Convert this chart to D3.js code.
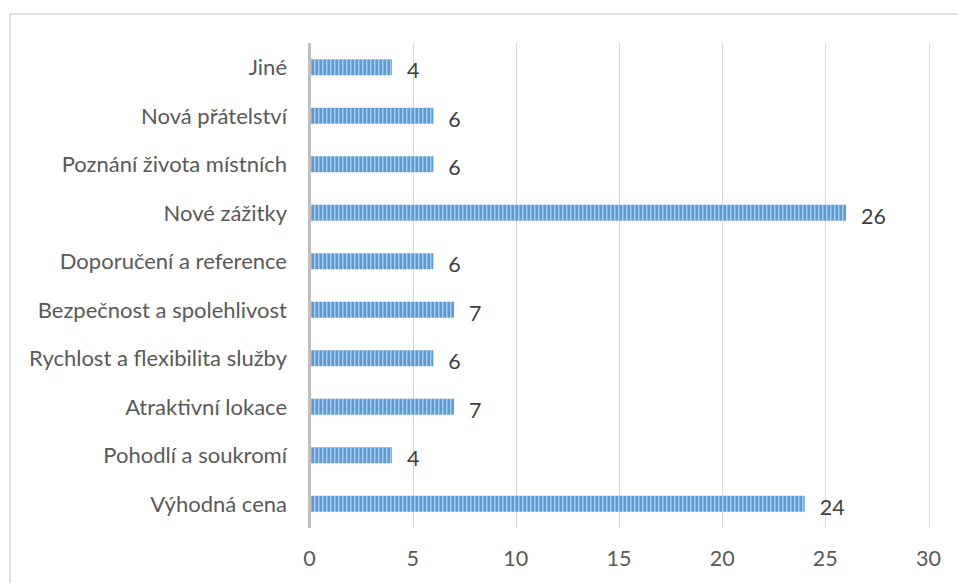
<!DOCTYPE html>
<html>
<head>
<meta charset="utf-8">
<script src="https://cdn.jsdelivr.net/npm/d3@7"></script>
<style>
  html, body { margin: 0; padding: 0; background: #ffffff; }
  svg { display: block; }
  text { font-family: Lato, "Open Sans", sans-serif; }
</style>
</head>
<body>
<svg id="chart" width="958" height="583"></svg>
<script>
// Reasons, top to bottom, and their counts
const categories = [
  "Jiné",
  "Nová přátelství",
  "Poznání života místních",
  "Nové zážitky",
  "Doporučení a reference",
  "Bezpečnost a spolehlivost",
  "Rychlost a flexibilita služby",
  "Atraktivní lokace",
  "Pohodlí a soukromí",
  "Výhodná cena"
];
const values = [4, 6, 6, 26, 6, 7, 6, 7, 4, 24];
const xTicks = [0, 5, 10, 15, 20, 25, 30];

const svg = d3.select("#chart");
const W = 958, H = 583;
const plot = { left: 309.5, right: 928.5, top: 43, bottom: 528 };
const fontSize = 21.5;

// Outer frame (runs off the right and bottom edges)
svg.append("rect")
  .attr("x", 10).attr("y", 14)
  .attr("width", W + 10).attr("height", H + 10)
  .attr("fill", "none").attr("stroke", "#d9d9d9").attr("stroke-width", 1.5);

// Striped bar fill
const defs = svg.append("defs");
const pat = defs.append("pattern")
  .attr("id", "stripes")
  .attr("patternUnits", "userSpaceOnUse")
  .attr("width", 4).attr("height", 4);
pat.append("rect").attr("width", 4).attr("height", 4).attr("fill", "#5b9bd5");
pat.append("rect").attr("x", 2).attr("width", 1).attr("height", 4).attr("fill", "#a9cbec");
pat.append("rect").attr("x", 3).attr("width", 1).attr("height", 4).attr("fill", "#7fb0e0");

const x = d3.scaleLinear().domain([0, 30]).range([plot.left, plot.right]);
const y = d3.scaleBand().domain(categories)
  .range([plot.top, plot.bottom])
  .paddingInner(0.67).paddingOuter(0.335);

// Vertical gridlines
svg.append("g").selectAll("line")
  .data(xTicks.filter(d => d > 0))
  .join("line")
  .attr("x1", d => Math.round(x(d)) + 0.5).attr("x2", d => Math.round(x(d)) + 0.5)
  .attr("y1", plot.top).attr("y2", plot.bottom)
  .attr("stroke", "#d9d9d9").attr("stroke-width", 1);

// Bars
svg.append("g").selectAll("rect")
  .data(categories)
  .join("rect")
  .attr("x", x(0))
  .attr("y", d => y(d))
  .attr("width", (d, i) => x(values[i]) - x(0))
  .attr("height", y.bandwidth())
  .attr("fill", "url(#stripes)");

// Category axis line
svg.append("line")
  .attr("x1", x(0)).attr("x2", x(0))
  .attr("y1", plot.top).attr("y2", plot.bottom)
  .attr("stroke", "#bfbfbf").attr("stroke-width", 3);

// Category labels
svg.append("g").selectAll("text")
  .data(categories)
  .join("text")
  .attr("x", 287)
  .attr("y", d => y(d) + y.bandwidth() / 2 + 8)
  .attr("text-anchor", "end")
  .attr("font-size", 22)
  .attr("fill", "#595959")
  .text(d => d);

// Value labels
svg.append("g").selectAll("text")
  .data(categories)
  .join("text")
  .attr("x", (d, i) => x(values[i]) + 15)
  .attr("y", d => y(d) + y.bandwidth() / 2 + 11)
  .attr("font-size", fontSize)
  .attr("fill", "#404040")
  .text((d, i) => values[i]);

// Value axis labels
svg.append("g").selectAll("text")
  .data(xTicks)
  .join("text")
  .attr("x", d => x(d))
  .attr("y", 566)
  .attr("text-anchor", "middle")
  .attr("font-size", fontSize)
  .attr("fill", "#595959")
  .text(d => d);
</script>
</body>
</html>
